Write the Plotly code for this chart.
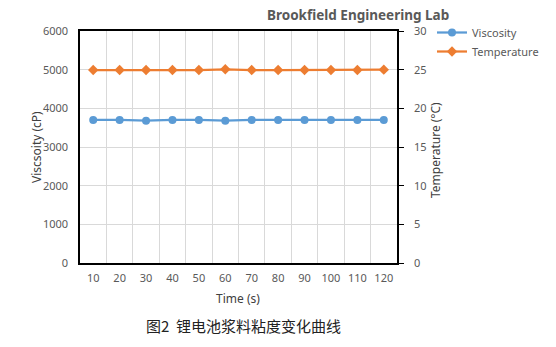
import plotly.graph_objects as go

times = ["10", "20", "30", "40", "50", "60", "70", "80", "90", "100", "110", "120"]
viscosity = [3700, 3700, 3680, 3700, 3700, 3680, 3700, 3700, 3700, 3700, 3700, 3700]
temperature = [24.95, 24.95, 24.95, 24.95, 24.95, 25.05, 24.95, 24.95, 24.95, 24.95, 24.95, 25.0]

GRAY = "#595959"
FONT = "Noto Sans"

fig = go.Figure()
fig.add_trace(go.Scatter(
    x=times, y=viscosity, name="Viscosity", mode="lines+markers",
    line=dict(color="#5B9BD5", width=2.25),
    marker=dict(symbol="circle", size=8, color="#5B9BD5"),
))
fig.add_trace(go.Scatter(
    x=times, y=temperature, name="Temperature", mode="lines+markers", yaxis="y2",
    line=dict(color="#ED7D31", width=2.25),
    marker=dict(symbol="diamond", size=8, color="#ED7D31"),
))

pw, ph = 556 - 80 - 159, 347 - 31 - 84

fig.update_layout(
    width=556, height=347,
    margin=dict(l=80, r=159, t=31, b=84),
    paper_bgcolor="white", plot_bgcolor="white",
    font=dict(family=FONT, size=11, color=GRAY),
    showlegend=True,
    legend=dict(x=(432 - 80) / pw, y=(263 - 18) / ph, xanchor="left", yanchor="top",
                font=dict(size=11, color=GRAY), tracegroupgap=0,
                itemwidth=30, bgcolor="rgba(0,0,0,0)"),
    xaxis=dict(type="category", tickson="boundaries", ticks="", tickangle=0,
               showgrid=True, gridcolor="#d9d9d9", gridwidth=1,
               showline=True, linecolor="black", linewidth=1.5, mirror=True,
               tickfont=dict(size=11, color=GRAY), ticklabelstandoff=4,
               range=[-0.5, 11.5]),
    yaxis=dict(range=[0, 6000], dtick=1000, showgrid=True, gridcolor="#d9d9d9",
               showline=True, linecolor="black", linewidth=1.5, ticks="",
               tickfont=dict(size=11, color=GRAY), ticklabelstandoff=8,
               zeroline=False),
    yaxis2=dict(range=[0, 30], dtick=5, overlaying="y", side="right",
                showgrid=False, showline=True, linecolor="black", linewidth=1.5,
                ticks="outside", ticklen=5, tickcolor="black", tickwidth=1,
                tickfont=dict(size=11, color=GRAY), ticklabelstandoff=8,
                zeroline=False),
    annotations=[
        dict(text="<b>Brookfield Engineering Lab</b>", x=358, y=15,
             showarrow=False, font=dict(size=13.5, color=GRAY)),
        dict(text="Time (s)", x=238, y=298, showarrow=False, font=dict(size=12, color="#404040")),
        dict(text="Viscsoity (cP)", x=36, y=147, textangle=-90, showarrow=False,
             font=dict(size=12, color="#404040")),
        dict(text="Temperature (°C)", x=435, y=150, textangle=-90, showarrow=False,
             font=dict(size=12, color="#404040")),
        dict(text="图2\u00a0\u00a0锂电池浆料粘度变化曲线", x=243, y=325, showarrow=False,
             font=dict(family="Noto Sans CJK SC", size=15, color="#222222")),
    ],
)

# convert pixel positions of annotations to paper coordinates
for a in fig.layout.annotations:
    a.xref = "paper"; a.yref = "paper"
    a.x = (a.x - 80) / pw
    a.y = (347 - 84 - a.y) / ph
    a.xanchor = "center"; a.yanchor = "middle"

fig.write_html("out.html")
